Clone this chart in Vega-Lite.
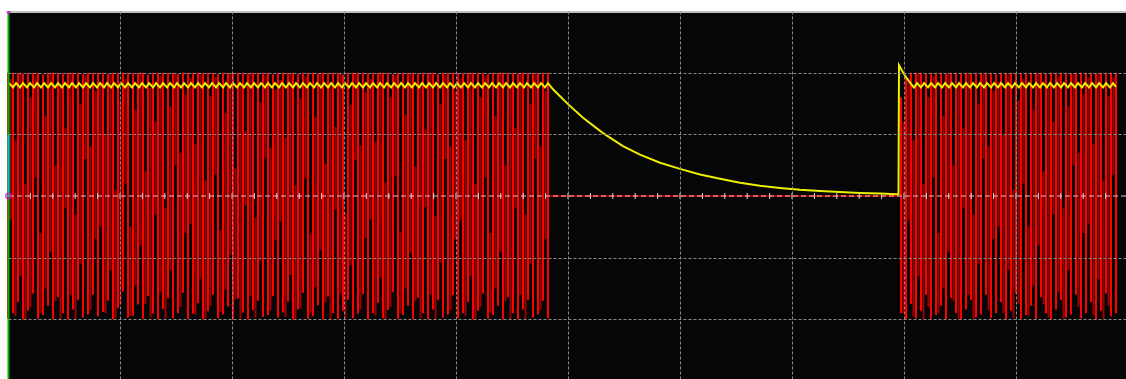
{
"$schema":"https://vega.github.io/schema/vega-lite/v6.json",
"width":1118,"height":368,
"autosize":"none",
"padding":{"left":8,"top":11,"right":0,"bottom":0},
"background":"#ffffff",
"config":{"view":{"fill":"#060606","stroke":null}},
"datasets":{
"bright":[
{"n":0,"a":2,"b":-1.98},{"n":5,"a":2,"b":-1.9},{"n":10,"a":2,"b":-1.72},{"n":15,"a":1.98,"b":-2},{"n":20,"a":2,"b":-1.86},{"n":25,"a":2,"b":-1.58},{"n":30,"a":2,"b":-1.99},{"n":35,"a":1.97,"b":-1.93},{"n":40,"a":2,"b":-1.78},{"n":45,"a":2,"b":-2},{"n":50,"a":2,"b":-1.64},{"n":55,"a":1.99,"b":-1.9},{"n":60,"a":2,"b":-2},{"n":65,"a":2,"b":-1.84},{"n":70,"a":2,"b":-1.69},{"n":75,"a":1.98,"b":-1.97},{"n":80,"a":2,"b":-1.92},{"n":85,"a":2,"b":-1.6},
{"n":90,"a":2,"b":-1.95},{"n":95,"a":2,"b":-1.88},{"n":100,"a":1.98,"b":-1.7},{"n":105,"a":2,"b":-2},{"n":110,"a":2,"b":-1.82},{"n":115,"a":2,"b":-1.55},{"n":120,"a":2,"b":-1.97},{"n":125,"a":1.99,"b":-1.94},{"n":130,"a":2,"b":-1.76},{"n":135,"a":2,"b":-1.99},{"n":140,"a":1.97,"b":-1.62},{"n":145,"a":2,"b":-1.91},{"n":150,"a":2,"b":-2},{"n":155,"a":2,"b":-1.83},{"n":160,"a":2,"b":-1.66},{"n":165,"a":2,"b":-1.98},{"n":170,"a":1.98,"b":-1.9},{"n":175,"a":2,"b":-1.57},
{"n":180,"a":2,"b":-1.99},{"n":185,"a":2,"b":-1.91},{"n":190,"a":2,"b":-1.74},{"n":195,"a":1.99,"b":-2},{"n":200,"a":2,"b":-1.87},{"n":205,"a":2,"b":-1.6},{"n":210,"a":1.98,"b":-1.98},{"n":215,"a":2,"b":-1.92},{"n":220,"a":2,"b":-1.79},{"n":225,"a":2,"b":-2},{"n":230,"a":2,"b":-1.66},{"n":235,"a":2,"b":-1.89},{"n":240,"a":1.99,"b":-2},{"n":245,"a":2,"b":-1.85},{"n":250,"a":2,"b":-1.7},{"n":255,"a":2,"b":-1.96},{"n":260,"a":2,"b":-1.93},{"n":265,"a":1.98,"b":-1.62},
{"n":270,"a":2,"b":-1.97},{"n":275,"a":2,"b":-1.89},{"n":280,"a":2,"b":-1.71},{"n":285,"a":2,"b":-2},{"n":290,"a":1.98,"b":-1.84},{"n":295,"a":2,"b":-1.57},{"n":300,"a":2,"b":-1.99},{"n":305,"a":2,"b":-1.95},{"n":310,"a":1.99,"b":-1.77},{"n":315,"a":2,"b":-2},{"n":320,"a":2,"b":-1.63},{"n":325,"a":2,"b":-1.9},{"n":330,"a":2,"b":-1.99},{"n":335,"a":1.97,"b":-1.86},{"n":340,"a":2,"b":-1.68},{"n":345,"a":2,"b":-1.98},{"n":350,"a":2,"b":-1.91},{"n":355,"a":2,"b":-1.59},
{"n":360,"a":1.99,"b":-2},{"n":365,"a":2,"b":-1.9},{"n":370,"a":2,"b":-1.73},{"n":375,"a":2,"b":-1.98},{"n":380,"a":2,"b":-1.85},{"n":385,"a":1.98,"b":-1.56},{"n":390,"a":2,"b":-1.99},{"n":395,"a":2,"b":-1.93},{"n":400,"a":2,"b":-1.78},{"n":405,"a":2,"b":-2},{"n":410,"a":1.99,"b":-1.65},{"n":415,"a":2,"b":-1.9},{"n":420,"a":2,"b":-2},{"n":425,"a":2,"b":-1.84},{"n":430,"a":1.98,"b":-1.69},{"n":435,"a":2,"b":-1.97},{"n":440,"a":2,"b":-1.92},{"n":445,"a":2,"b":-1.61},
{"n":450,"a":2,"b":-1.98},{"n":455,"a":1.99,"b":-1.9},{"n":460,"a":2,"b":-1.72},{"n":465,"a":2,"b":-2},{"n":470,"a":2,"b":-1.86},{"n":475,"a":2,"b":-1.58},{"n":480,"a":1.98,"b":-1.99},{"n":485,"a":2,"b":-1.93},{"n":490,"a":2,"b":-1.78},{"n":495,"a":2,"b":-2},{"n":500,"a":2,"b":-1.64},{"n":505,"a":2,"b":-1.9},{"n":510,"a":1.99,"b":-2},{"n":515,"a":2,"b":-1.84},{"n":520,"a":2,"b":-1.69},{"n":525,"a":2,"b":-1.97},{"n":530,"a":2,"b":-1.92},{"n":535,"a":2,"b":-1.7},{"n":540,"a":2,"b":-1.98},
{"n":893,"a":1.6,"b":-1.9},{"n":898,"a":1.95,"b":-2},{"n":903,"a":2,"b":-1.75},{"n":908,"a":2,"b":-1.98},{"n":913,"a":2,"b":-1.86},{"n":918,"a":1.99,"b":-1.6},{"n":923,"a":2,"b":-1.99},{"n":928,"a":2,"b":-1.93},{"n":933,"a":2,"b":-1.78},{"n":938,"a":1.98,"b":-2},{"n":943,"a":2,"b":-1.65},{"n":948,"a":2,"b":-1.9},{"n":953,"a":2,"b":-2},{"n":958,"a":2,"b":-1.84},{"n":963,"a":1.99,"b":-1.69},{"n":968,"a":2,"b":-1.97},{"n":973,"a":2,"b":-1.92},{"n":978,"a":2,"b":-1.6},{"n":983,"a":2,"b":-1.98},{"n":988,"a":1.98,"b":-1.9},{"n":993,"a":2,"b":-1.72},{"n":998,"a":2,"b":-2},{"n":1003,"a":2,"b":-1.86},{"n":1008,"a":2,"b":-1.58},{"n":1013,"a":1.99,"b":-1.99},{"n":1018,"a":2,"b":-1.93},{"n":1023,"a":2,"b":-1.78},{"n":1028,"a":2,"b":-2},{"n":1033,"a":2,"b":-1.64},{"n":1038,"a":1.98,"b":-1.9},{"n":1043,"a":2,"b":-2},{"n":1048,"a":2,"b":-1.84},{"n":1053,"a":2,"b":-1.69},{"n":1058,"a":2,"b":-1.97},{"n":1063,"a":1.99,"b":-1.92},{"n":1068,"a":2,"b":-1.6},{"n":1073,"a":2,"b":-1.98},{"n":1078,"a":2,"b":-1.9},{"n":1083,"a":2,"b":-1.72},{"n":1088,"a":1.98,"b":-2},{"n":1093,"a":2,"b":-1.86},{"n":1098,"a":2,"b":-1.58},{"n":1103,"a":2,"b":-1.95},{"n":1108,"a":2,"b":-1.9}
],
"dim":[
{"n":2.5,"a":1.9,"b":-0.4},{"n":7.5,"a":0.9,"b":-1.95},{"n":12.5,"a":2,"b":-1.3},{"n":17.5,"a":0.2,"b":-2},{"n":22.5,"a":1.6,"b":-1.8},{"n":27.5,"a":1.95,"b":0.3},{"n":32.5,"a":-0.6,"b":-1.9},{"n":37.5,"a":1.3,"b":-1.5},{"n":42.5,"a":2,"b":-0.9},{"n":47.5,"a":0.5,"b":-1.7},{"n":52.5,"a":1.8,"b":-2},{"n":57.5,"a":1.1,"b":-0.2},{"n":62.5,"a":2,"b":-1.6},{"n":67.5,"a":-0.3,"b":-2},{"n":72.5,"a":1.5,"b":-1.1},{"n":77.5,"a":1.97,"b":0.6},{"n":82.5,"a":0.8,"b":-1.85},{"n":87.5,"a":1.7,"b":-0.7},
{"n":92.5,"a":1.85,"b":-0.5},{"n":97.5,"a":1,"b":-1.9},{"n":102.5,"a":1.98,"b":-1.2},{"n":107.5,"a":0.1,"b":-1.98},{"n":112.5,"a":1.55,"b":-1.75},{"n":117.5,"a":1.9,"b":0.2},{"n":122.5,"a":-0.5,"b":-1.95},{"n":127.5,"a":1.4,"b":-1.45},{"n":132.5,"a":2,"b":-0.8},{"n":137.5,"a":0.4,"b":-1.75},{"n":142.5,"a":1.75,"b":-1.97},{"n":147.5,"a":1.2,"b":-0.3},{"n":152.5,"a":1.95,"b":-1.55},{"n":157.5,"a":-0.2,"b":-1.99},{"n":162.5,"a":1.45,"b":-1.2},{"n":167.5,"a":1.99,"b":0.5},{"n":172.5,"a":0.7,"b":-1.8},{"n":177.5,"a":1.65,"b":-0.6},
{"n":182.5,"a":1.92,"b":-0.45},{"n":187.5,"a":0.85,"b":-1.93},{"n":192.5,"a":2,"b":-1.35},{"n":197.5,"a":0.25,"b":-2},{"n":202.5,"a":1.62,"b":-1.78},{"n":207.5,"a":1.93,"b":0.35},{"n":212.5,"a":-0.55,"b":-1.88},{"n":217.5,"a":1.35,"b":-1.52},{"n":222.5,"a":1.98,"b":-0.95},{"n":227.5,"a":0.45,"b":-1.68},{"n":232.5,"a":1.82,"b":-1.99},{"n":237.5,"a":1.05,"b":-0.15},{"n":242.5,"a":2,"b":-1.62},{"n":247.5,"a":-0.35,"b":-1.97},{"n":252.5,"a":1.52,"b":-1.05},{"n":257.5,"a":1.96,"b":0.62},{"n":262.5,"a":0.78,"b":-1.86},{"n":267.5,"a":1.72,"b":-0.72},
{"n":272.5,"a":1.88,"b":-0.42},{"n":277.5,"a":0.95,"b":-1.96},{"n":282.5,"a":1.99,"b":-1.28},{"n":287.5,"a":0.18,"b":-1.99},{"n":292.5,"a":1.58,"b":-1.82},{"n":297.5,"a":1.94,"b":0.28},{"n":302.5,"a":-0.62,"b":-1.91},{"n":307.5,"a":1.28,"b":-1.48},{"n":312.5,"a":2,"b":-0.88},{"n":317.5,"a":0.52,"b":-1.72},{"n":322.5,"a":1.79,"b":-2},{"n":327.5,"a":1.12,"b":-0.22},{"n":332.5,"a":1.99,"b":-1.58},{"n":337.5,"a":-0.28,"b":-1.98},{"n":342.5,"a":1.48,"b":-1.12},{"n":347.5,"a":1.98,"b":0.58},{"n":352.5,"a":0.82,"b":-1.84},{"n":357.5,"a":1.68,"b":-0.68},
{"n":362.5,"a":1.9,"b":-0.38},{"n":367.5,"a":0.88,"b":-1.94},{"n":372.5,"a":2,"b":-1.32},{"n":377.5,"a":0.22,"b":-2},{"n":382.5,"a":1.6,"b":-1.8},{"n":387.5,"a":1.95,"b":0.32},{"n":392.5,"a":-0.58,"b":-1.9},{"n":397.5,"a":1.32,"b":-1.5},{"n":402.5,"a":1.99,"b":-0.92},{"n":407.5,"a":0.48,"b":-1.7},{"n":412.5,"a":1.8,"b":-1.98},{"n":417.5,"a":1.08,"b":-0.18},{"n":422.5,"a":2,"b":-1.6},{"n":427.5,"a":-0.32,"b":-2},{"n":432.5,"a":1.5,"b":-1.08},{"n":437.5,"a":1.97,"b":0.6},{"n":442.5,"a":0.8,"b":-1.85},{"n":447.5,"a":1.7,"b":-0.7},
{"n":452.5,"a":1.9,"b":-0.4},{"n":457.5,"a":0.9,"b":-1.95},{"n":462.5,"a":2,"b":-1.3},{"n":467.5,"a":0.2,"b":-2},{"n":472.5,"a":1.6,"b":-1.8},{"n":477.5,"a":1.95,"b":0.3},{"n":482.5,"a":-0.6,"b":-1.9},{"n":487.5,"a":1.3,"b":-1.5},{"n":492.5,"a":2,"b":-0.9},{"n":497.5,"a":0.5,"b":-1.7},{"n":502.5,"a":1.8,"b":-2},{"n":507.5,"a":1.1,"b":-0.2},{"n":512.5,"a":2,"b":-1.6},{"n":517.5,"a":-0.3,"b":-2},{"n":522.5,"a":1.5,"b":-1.1},{"n":527.5,"a":1.97,"b":0.6},{"n":532.5,"a":0.8,"b":-1.85},{"n":537.5,"a":1.7,"b":-0.7},
{"n":895.5,"a":1.2,"b":-1.9},{"n":900.5,"a":1.9,"b":-0.4},{"n":905.5,"a":0.9,"b":-1.95},{"n":910.5,"a":2,"b":-1.3},{"n":915.5,"a":0.2,"b":-2},{"n":920.5,"a":1.6,"b":-1.8},{"n":925.5,"a":1.95,"b":0.3},{"n":930.5,"a":-0.6,"b":-1.9},{"n":935.5,"a":1.3,"b":-1.5},{"n":940.5,"a":2,"b":-0.9},{"n":945.5,"a":0.5,"b":-1.7},{"n":950.5,"a":1.8,"b":-2},{"n":955.5,"a":1.1,"b":-0.2},{"n":960.5,"a":2,"b":-1.6},{"n":965.5,"a":-0.3,"b":-2},{"n":970.5,"a":1.5,"b":-1.1},{"n":975.5,"a":1.97,"b":0.6},{"n":980.5,"a":0.8,"b":-1.85},{"n":985.5,"a":1.7,"b":-0.7},{"n":990.5,"a":1.85,"b":-0.5},{"n":995.5,"a":1,"b":-1.9},{"n":1000.5,"a":1.98,"b":-1.2},{"n":1005.5,"a":0.1,"b":-1.98},{"n":1010.5,"a":1.55,"b":-1.75},{"n":1015.5,"a":1.9,"b":0.2},{"n":1020.5,"a":-0.5,"b":-1.95},{"n":1025.5,"a":1.4,"b":-1.45},{"n":1030.5,"a":2,"b":-0.8},{"n":1035.5,"a":0.4,"b":-1.75},{"n":1040.5,"a":1.75,"b":-1.97},{"n":1045.5,"a":1.2,"b":-0.3},{"n":1050.5,"a":1.95,"b":-1.55},{"n":1055.5,"a":-0.2,"b":-1.99},{"n":1060.5,"a":1.45,"b":-1.2},{"n":1065.5,"a":1.99,"b":0.5},{"n":1070.5,"a":0.7,"b":-1.8},{"n":1075.5,"a":1.65,"b":-0.6},{"n":1080.5,"a":1.92,"b":-0.45},{"n":1085.5,"a":0.85,"b":-1.93},{"n":1090.5,"a":2,"b":-1.35},{"n":1095.5,"a":0.25,"b":-2},{"n":1100.5,"a":1.62,"b":-1.78},{"n":1105.5,"a":1.93,"b":0.35}
],
"yellow":[
{"n":1,"v":1.83},{"n":5,"v":1.76},{"n":8,"v":1.83},{"n":12,"v":1.76},{"n":15,"v":1.83},{"n":19,"v":1.76},{"n":22,"v":1.83},{"n":26,"v":1.76},{"n":29,"v":1.83},{"n":33,"v":1.76},{"n":36,"v":1.83},{"n":40,"v":1.76},{"n":43,"v":1.83},{"n":47,"v":1.76},{"n":50,"v":1.83},{"n":54,"v":1.76},{"n":57,"v":1.83},{"n":61,"v":1.76},{"n":64,"v":1.83},{"n":68,"v":1.76},{"n":71,"v":1.83},{"n":75,"v":1.76},{"n":78,"v":1.83},{"n":82,"v":1.76},{"n":85,"v":1.83},{"n":89,"v":1.76},{"n":92,"v":1.83},{"n":96,"v":1.76},{"n":99,"v":1.83},{"n":103,"v":1.76},{"n":106,"v":1.83},{"n":110,"v":1.76},{"n":113,"v":1.83},{"n":117,"v":1.76},{"n":120,"v":1.83},{"n":124,"v":1.76},{"n":127,"v":1.83},{"n":131,"v":1.76},{"n":134,"v":1.83},{"n":138,"v":1.76},{"n":141,"v":1.83},{"n":145,"v":1.76},{"n":148,"v":1.83},{"n":152,"v":1.76},{"n":155,"v":1.83},{"n":159,"v":1.76},{"n":162,"v":1.83},{"n":166,"v":1.76},{"n":169,"v":1.83},{"n":173,"v":1.76},{"n":176,"v":1.83},{"n":180,"v":1.76},{"n":183,"v":1.83},{"n":187,"v":1.76},{"n":190,"v":1.83},{"n":194,"v":1.76},{"n":197,"v":1.83},{"n":201,"v":1.76},{"n":204,"v":1.83},{"n":208,"v":1.76},{"n":211,"v":1.83},{"n":215,"v":1.76},{"n":218,"v":1.83},{"n":222,"v":1.76},{"n":225,"v":1.83},{"n":229,"v":1.76},{"n":232,"v":1.83},{"n":236,"v":1.76},{"n":239,"v":1.83},{"n":243,"v":1.76},{"n":246,"v":1.83},{"n":250,"v":1.76},{"n":253,"v":1.83},{"n":257,"v":1.76},{"n":260,"v":1.83},{"n":264,"v":1.76},{"n":267,"v":1.83},{"n":271,"v":1.76},{"n":274,"v":1.83},{"n":278,"v":1.76},{"n":281,"v":1.83},{"n":285,"v":1.76},{"n":288,"v":1.83},{"n":292,"v":1.76},{"n":295,"v":1.83},{"n":299,"v":1.76},{"n":302,"v":1.83},{"n":306,"v":1.76},{"n":309,"v":1.83},{"n":313,"v":1.76},{"n":316,"v":1.83},{"n":320,"v":1.76},{"n":323,"v":1.83},{"n":327,"v":1.76},{"n":330,"v":1.83},{"n":334,"v":1.76},{"n":337,"v":1.83},{"n":341,"v":1.76},{"n":344,"v":1.83},{"n":348,"v":1.76},{"n":351,"v":1.83},{"n":355,"v":1.76},{"n":358,"v":1.83},{"n":362,"v":1.76},{"n":365,"v":1.83},{"n":369,"v":1.76},{"n":372,"v":1.83},{"n":376,"v":1.76},{"n":379,"v":1.83},{"n":383,"v":1.76},{"n":386,"v":1.83},{"n":390,"v":1.76},{"n":393,"v":1.83},{"n":397,"v":1.76},{"n":400,"v":1.83},{"n":404,"v":1.76},{"n":407,"v":1.83},{"n":411,"v":1.76},{"n":414,"v":1.83},{"n":418,"v":1.76},{"n":421,"v":1.83},{"n":425,"v":1.76},{"n":428,"v":1.83},{"n":432,"v":1.76},{"n":435,"v":1.83},{"n":439,"v":1.76},{"n":442,"v":1.83},{"n":446,"v":1.76},{"n":449,"v":1.83},{"n":453,"v":1.76},{"n":456,"v":1.83},{"n":460,"v":1.76},{"n":463,"v":1.83},{"n":467,"v":1.76},{"n":470,"v":1.83},{"n":474,"v":1.76},{"n":477,"v":1.83},{"n":481,"v":1.76},{"n":484,"v":1.83},{"n":488,"v":1.76},{"n":491,"v":1.83},{"n":495,"v":1.76},{"n":498,"v":1.83},{"n":502,"v":1.76},{"n":505,"v":1.83},{"n":509,"v":1.76},{"n":512,"v":1.83},{"n":516,"v":1.76},{"n":519,"v":1.83},{"n":523,"v":1.76},{"n":526,"v":1.83},{"n":530,"v":1.76},{"n":533,"v":1.83},{"n":537,"v":1.76},{"n":540,"v":1.83},
{"n":545,"v":1.73},{"n":550,"v":1.65},{"n":560,"v":1.49},{"n":575,"v":1.27},{"n":595,"v":1.02},{"n":615,"v":0.81},{"n":632,"v":0.67},{"n":652,"v":0.54},{"n":672,"v":0.44},{"n":692,"v":0.35},{"n":712,"v":0.28},{"n":732,"v":0.215},{"n":752,"v":0.165},{"n":772,"v":0.13},{"n":792,"v":0.1},{"n":812,"v":0.08},{"n":832,"v":0.065},{"n":852,"v":0.05},{"n":872,"v":0.04},{"n":889,"v":0.03},{"n":890.5,"v":0.03},{"n":891,"v":2.12},{"n":897,"v":1.95},{"n":903,"v":1.82},
{"n":906,"v":1.76},{"n":909,"v":1.83},{"n":913,"v":1.76},{"n":916,"v":1.83},{"n":920,"v":1.76},{"n":923,"v":1.83},{"n":927,"v":1.76},{"n":930,"v":1.83},{"n":934,"v":1.76},{"n":937,"v":1.83},{"n":941,"v":1.76},{"n":944,"v":1.83},{"n":948,"v":1.76},{"n":951,"v":1.83},{"n":955,"v":1.76},{"n":958,"v":1.83},{"n":962,"v":1.76},{"n":965,"v":1.83},{"n":969,"v":1.76},{"n":972,"v":1.83},{"n":976,"v":1.76},{"n":979,"v":1.83},{"n":983,"v":1.76},{"n":986,"v":1.83},{"n":990,"v":1.76},{"n":993,"v":1.83},{"n":997,"v":1.76},{"n":1000,"v":1.83},{"n":1004,"v":1.76},{"n":1007,"v":1.83},{"n":1011,"v":1.76},{"n":1014,"v":1.83},{"n":1018,"v":1.76},{"n":1021,"v":1.83},{"n":1025,"v":1.76},{"n":1028,"v":1.83},{"n":1032,"v":1.76},{"n":1035,"v":1.83},{"n":1039,"v":1.76},{"n":1042,"v":1.83},{"n":1046,"v":1.76},{"n":1049,"v":1.83},{"n":1053,"v":1.76},{"n":1056,"v":1.83},{"n":1060,"v":1.76},{"n":1063,"v":1.83},{"n":1067,"v":1.76},{"n":1070,"v":1.83},{"n":1074,"v":1.76},{"n":1077,"v":1.83},{"n":1081,"v":1.76},{"n":1084,"v":1.83},{"n":1088,"v":1.76},{"n":1091,"v":1.83},{"n":1095,"v":1.76},{"n":1098,"v":1.83},{"n":1102,"v":1.76},{"n":1105,"v":1.83},{"n":1108,"v":1.77}
],
"flat":[{"n":540,"v":0},{"n":891,"v":0}],
"ticks":[{"n":22.4},{"n":44.8},{"n":67.2},{"n":89.6},{"n":112},{"n":134.4},{"n":156.8},{"n":179.2},{"n":201.6},{"n":224},{"n":246.4},{"n":268.8},{"n":291.2},{"n":313.6},{"n":336},{"n":358.4},{"n":380.8},{"n":403.2},{"n":425.6},{"n":448},{"n":470.4},{"n":492.8},{"n":515.2},{"n":537.6},{"n":560},{"n":582.4},{"n":604.8},{"n":627.2},{"n":649.6},{"n":672},{"n":694.4},{"n":716.8},{"n":739.2},{"n":761.6},{"n":784},{"n":806.4},{"n":828.8},{"n":851.2},{"n":873.6},{"n":896},{"n":918.4},{"n":940.8},{"n":963.2},{"n":985.6},{"n":1008},{"n":1030.4},{"n":1052.8},{"n":1075.2},{"n":1097.6}]
},
"layer":[
{"data":{"name":"dim"},"mark":{"type":"rule","color":"#9a0000","strokeWidth":2},
 "encoding":{
  "x":{"field":"n","type":"quantitative","scale":{"domain":[0,1118],"nice":false,"zero":false},
       "axis":{"values":[112,224,336,448,560,672,784,896,1008],"grid":true,"gridColor":"#8a8a8a","gridDash":[3,2],"gridWidth":1,"domain":false,"ticks":false,"labels":false,"title":null,"zindex":1}},
  "y":{"field":"a","type":"quantitative","scale":{"domain":[-2.967,3],"nice":false,"zero":false},
       "axis":{"values":[-2,-1,1,2],"grid":true,"gridColor":"#8a8a8a","gridDash":[3,2],"gridWidth":1,"domain":false,"ticks":false,"labels":false,"title":null,"zindex":1}},
  "y2":{"field":"b"}}},
{"data":{"name":"bright"},"mark":{"type":"rule","color":"#ff0000","strokeWidth":2},
 "encoding":{"x":{"field":"n","type":"quantitative"},"y":{"field":"a","type":"quantitative"},"y2":{"field":"b"}}},
{"data":{"name":"flat"},"mark":{"type":"line","color":"#a80000","strokeWidth":2},
 "encoding":{"x":{"field":"n","type":"quantitative"},"y":{"field":"v","type":"quantitative"}}},
{"data":{"values":[{}]},"mark":{"type":"rule","color":"#e8cccc","strokeWidth":1,"strokeDash":[5,3]},
 "encoding":{"y":{"datum":0}}},
{"data":{"name":"ticks"},"mark":{"type":"rule","color":"#d8d8d8","strokeWidth":1},
 "encoding":{"x":{"field":"n","type":"quantitative"},"y":{"datum":-0.05},"y2":{"datum":0.05}}},
{"data":{"name":"yellow"},"mark":{"type":"line","color":"#eeee00","strokeWidth":2},
 "encoding":{"x":{"field":"n","type":"quantitative"},"y":{"field":"v","type":"quantitative"}}},
{"data":{"values":[{}]},"mark":{"type":"rule","color":"#c0c0c0","strokeWidth":2},
 "encoding":{"y":{"datum":2.985}}},
{"data":{"values":[{}]},"mark":{"type":"rule","color":"#00b400","strokeWidth":2},
 "encoding":{"x":{"datum":0.5},"y":{"datum":3},"y2":{"datum":-2.967}}},
{"data":{"values":[{}]},"mark":{"type":"rule","color":"#00c8c8","strokeWidth":2},
 "encoding":{"x":{"datum":0.5},"y":{"datum":1},"y2":{"datum":0}}},
{"data":{"values":[{}]},"mark":{"type":"point","shape":"circle","filled":false,"color":"#e000e0","size":30,"strokeWidth":1.5},
 "encoding":{"x":{"datum":0.5},"y":{"datum":0}}},
{"data":{"values":[{}]},"mark":{"type":"point","shape":"triangle-down","filled":true,"color":"#e000e0","size":25},
 "encoding":{"x":{"datum":0.5},"y":{"datum":2.96}}}
]
}
